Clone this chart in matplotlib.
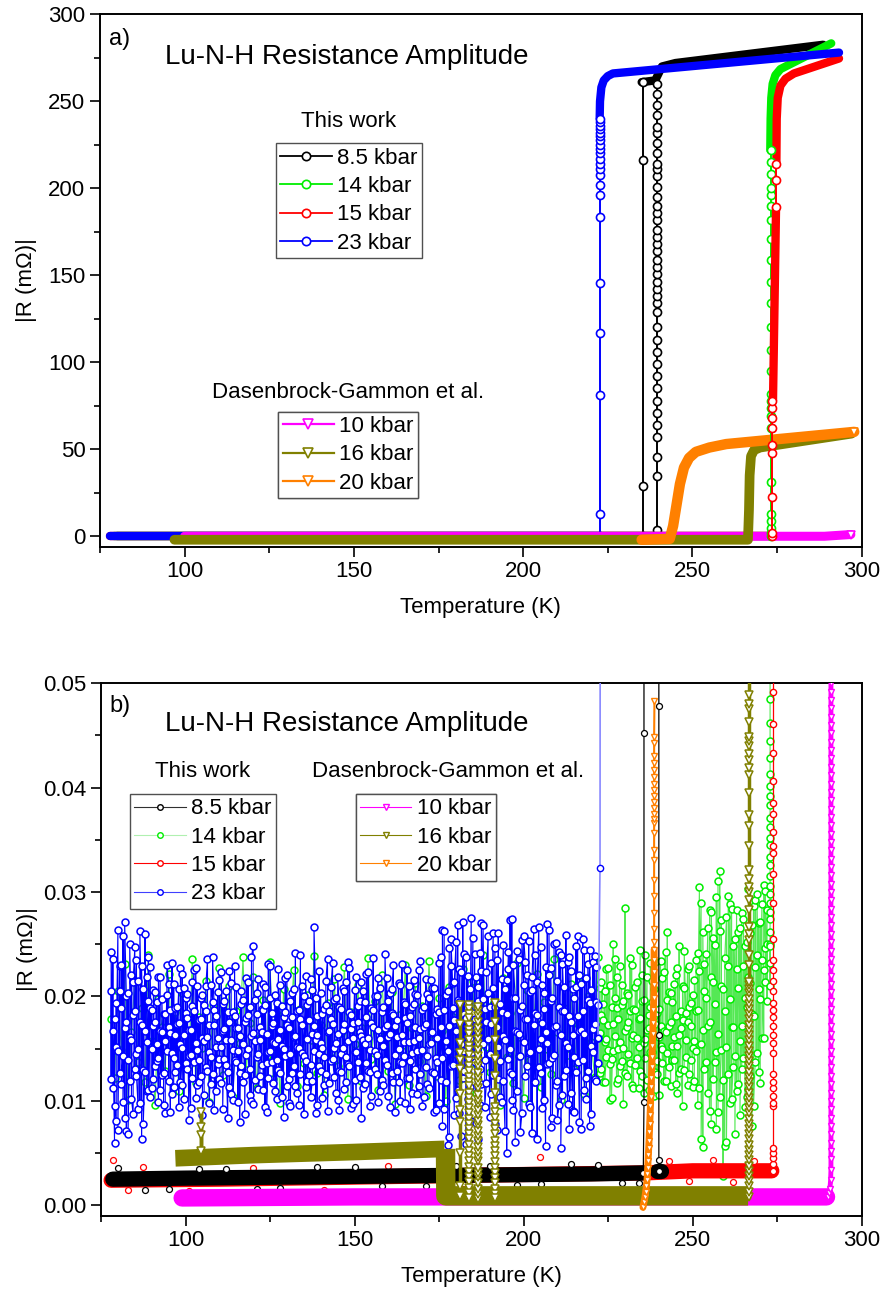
import matplotlib
matplotlib.use("Agg")
import matplotlib.pyplot as plt
from matplotlib.lines import Line2D
from matplotlib.ticker import MultipleLocator, FormatStrFormatter

plt.rcParams['font.family'] = ['Liberation Sans', 'DejaVu Sans']

BLK = '#000000'; GRN = '#00ee00'; RED = '#ff0000'; BLU = '#0000ff'
MAG = '#ff00ff'; OLV = '#808000'; ORN = '#ff8000'

# ---------------- panel a) values in mOhm ----------------
a_blk_flat_T = [80, 239.5]; a_blk_flat_R = [0, 0]
a_blk_top_T = [235.0, 239.0, 240.0, 241.0, 245.0, 288.6]
a_blk_top_R = [261, 262, 266, 270, 272, 282.5]
a_blk_jump1_T = 235.5
a_blk_jump1_R = [0, 29, 216, 261]
a_blk_jump2_T = 239.5
a_blk_jump2_R = [0, 3.6, 34.8, 45.4, 57, 64, 71, 78, 85, 92, 99, 106, 113, 120, 129, 134,
                 138, 142, 146, 151, 155, 159, 164, 168, 172, 176, 182, 186, 190, 195, 201,
                 207, 211, 214, 220, 226, 232, 235, 242, 248, 254, 260]

a_grn_flat_T = [79, 273.0]; a_grn_flat_R = [0, 0]
a_grn_jump_T = 273.1
a_grn_jump_R = [0, 2, 5, 9, 13, 31, 62, 69, 74, 78, 82, 95, 107, 120, 134, 146, 159, 171,
                182, 190, 196, 200, 208, 215, 222]
a_grn_top_T = [273.0, 273.1, 273.3, 273.7, 274.5, 276.0, 278.0, 291.0]
a_grn_top_R = [222, 240, 252, 260, 265, 268.5, 270.5, 283.3]

a_red_flat_T = [78, 273.6]; a_red_flat_R = [0, 0]
a_red_jump_T = 273.6
a_red_jump_R = [0, 2, 22.6, 48, 52.5, 62, 68, 74, 78]
a_red_mid_T = [273.8, 274.7]; a_red_mid_R = [78, 189]
a_red_gap_T = 274.8
a_red_gap_R = [189, 204.8, 214]
a_red_top_T = [274.8, 274.9, 275.2, 276.0, 277.5, 280.0, 293.3]
a_red_top_R = [214, 240, 252, 259, 263, 266, 274.6]

a_blu_flat_T = [78, 222.6]; a_blu_flat_R = [0, 0]
a_blu_jump_T = 222.7
a_blu_jump_R = [0, 12.8, 81, 116.7, 145.5, 183.3, 196, 202, 207.6, 211, 214, 217, 220,
                222.5, 225, 227.5, 230, 232, 234, 236, 238, 240]
a_blu_top_T = [222.6, 222.7, 223.1, 223.8, 225.0, 226.5, 293.3]
a_blu_top_R = [240, 250, 258, 262, 264.5, 266, 278]

a_mag_T = [100, 289, 296.8]; a_mag_R = [0, 0, 1]
a_olv_T = [97, 266.4, 266.7, 266.9, 267.3, 268.2, 270, 297]
a_olv_R = [-2, -2, 15, 35, 46, 49.5, 51, 59]
a_orn_T = [235, 243.3, 244.3, 245.3, 246.3, 247.5, 249, 251, 255, 260, 297.8]
a_orn_R = [-2, -1.5, 6, 18, 30, 39.5, 45, 48.5, 51, 53, 60]

# ---------------- panel b) values in 1e-4 mOhm ----------------
bins_lo = [78, 79, 80, 81, 82, 83, 84, 85, 86, 87, 88, 89, 90, 91, 92, 93, 94, 95, 96, 97,
           98, 99, 100, 101, 102, 103, 104, 105, 106, 107, 108, 109, 110, 111, 112, 113,
           114, 115, 116, 117, 118, 119, 120, 121, 122, 123, 124, 125, 126, 127, 128, 129,
           130, 131, 132, 133, 134, 135, 136, 137, 138, 139, 140, 141, 142, 143, 144, 145,
           146, 147, 148, 149, 150, 151, 152, 153, 154, 155, 156, 157, 158, 159, 160, 161,
           162, 163, 164, 165, 166, 167, 168, 169, 170, 171, 172, 173, 174, 175, 176, 177,
           178, 179, 180, 181, 182, 183, 184, 185, 186, 187, 188, 189, 190, 191, 192, 193,
           194, 195, 196, 197, 198, 199, 200, 201, 202, 203, 204, 205, 206, 207, 208, 209,
           210, 211, 212, 213, 214, 215, 216, 217, 218, 219, 220, 221, 222]
bins_lo_half = [78.5, 79.5, 80.5, 81.5, 82.5, 83.5, 84.5, 85.5, 86.5, 87.5, 88.5, 89.5,
                90.5, 91.5, 92.5, 93.5, 94.5, 95.5, 96.5, 97.5, 98.5, 99.5, 100.5, 101.5,
                102.5, 103.5, 104.5, 105.5, 106.5, 107.5, 108.5, 109.5, 110.5, 111.5, 112.5,
                113.5, 114.5, 115.5, 116.5, 117.5, 118.5, 119.5, 120.5, 121.5, 122.5, 123.5,
                124.5, 125.5, 126.5, 127.5, 128.5, 129.5, 130.5, 131.5, 132.5, 133.5, 134.5,
                135.5, 136.5, 137.5, 138.5, 139.5, 140.5, 141.5, 142.5, 143.5, 144.5, 145.5,
                146.5, 147.5, 148.5, 149.5, 150.5, 151.5, 152.5, 153.5, 154.5, 155.5, 156.5,
                157.5, 158.5, 159.5, 160.5, 161.5, 162.5, 163.5, 164.5, 165.5, 166.5, 167.5,
                168.5, 169.5, 170.5, 171.5, 172.5, 173.5, 174.5, 175.5, 176.5, 177.5, 178.5,
                179.5, 180.5, 181.5, 182.5, 183.5, 184.5, 185.5, 186.5, 187.5, 188.5, 189.5,
                190.5, 191.5, 192.5, 193.5, 194.5, 195.5, 196.5, 197.5, 198.5, 199.5, 200.5,
                201.5, 202.5, 203.5, 204.5, 205.5, 206.5, 207.5, 208.5, 209.5, 210.5, 211.5,
                212.5, 213.5, 214.5, 215.5, 216.5, 217.5, 218.5, 219.5, 220.5, 221.5]

b_blu_R = [
    (205, 121, 243), (60, 178, 95), (264, 148, 72), (189, 230, 116), (170, 84, 271),
    (139, 203, 68), (158, 221, 102), (247, 131, 186), (92, 215, 150), (173, 63, 229),
    (128, 260, 167), (196, 110, 238),
    (150, 187, 112), (204, 133, 176), (99, 219, 141), (166, 125, 198), (88, 183, 157),
    (212, 119, 171), (146, 232, 107), (189, 163, 128), (207, 94, 175), (151, 222, 115),
    (184, 136, 199), (82, 168, 143), (214, 122, 191), (155, 103, 227), (139, 177, 118),
    (201, 160, 86), (186, 132, 210), (147, 173, 98), (195, 126, 238), (152, 109, 181),
    (140, 216, 121), (167, 193, 92), (158, 205, 134), (176, 113, 224), (149, 185, 101),
    (170, 137, 209), (127, 162, 80), (197, 154, 118), (218, 144, 179), (106, 190, 131),
    (248, 165, 97), (183, 142, 203), (124, 171, 158), (212, 110, 187), (136, 164, 89),
    (199, 148, 229), (117, 175, 156), (102, 194, 139), (211, 127, 168), (85, 180, 150),
    (221, 114, 173), (145, 196, 95), (161, 207, 133), (186, 108, 152), (240, 126, 178),
    (143, 87, 200), (159, 119, 192), (134, 217, 104), (172, 148, 267), (96, 181, 163),
    (203, 129, 155), (115, 188, 142), (236, 166, 90), (178, 138, 209), (123, 197, 151),
    (164, 101, 219), (188, 145, 128), (111, 174, 205), (157, 233, 135), (93, 182, 169),
    (206, 120, 147), (137, 191, 176), (162, 84, 214), (195, 154, 116), (129, 223, 160),
    (175, 105, 189), (148, 200, 131), (218, 168, 99), (120, 185, 153), (170, 139, 241),
    (105, 196, 161), (184, 127, 207), (144, 172, 89), (213, 150, 118), (163, 231, 136),
    (98, 179, 193), (156, 122, 210), (190, 146, 108), (131, 202, 171), (225, 114, 160),
    (149, 187, 95), (174, 132, 217), (112, 199, 154), (208, 166, 128), (141, 91, 183),
    (232, 98, 185), (141, 264, 76), (201, 157, 118), (246, 172, 65), (213, 134, 189),
    (252, 103, 167), (226, 88, 195), (148, 271, 122), (179, 59, 238), (160, 207, 113),
    (256, 140, 184), (79, 219, 169), (131, 242, 96), (198, 154, 268), (117, 176, 223),
    (85, 190, 145), (261, 125, 208), (72, 171, 235), (138, 193, 104), (249, 162, 119),
    (216, 50, 183), (150, 273, 128), (199, 91, 230), (166, 109, 244), (143, 187, 70),
    (211, 156, 258), (133, 178, 221), (94, 204, 147), (265, 118, 173), (182, 63, 214),
    (127, 247, 159), (203, 101, 188), (155, 269, 135), (75, 196, 227), (171, 144, 250),
    (119, 215, 82), (240, 163, 55), (186, 124, 209), (97, 233, 152), (224, 176, 108),
    (142, 89, 199), (258, 137, 181), (168, 212, 73), (110, 245, 164), (197, 129, 231),
    (153, 87, 206), (239, 174, 121), (136, 192, 160)]
b_blu_R_half = [
    (112, 236, 167), (81, 194, 152), (229, 127, 205), (143, 258, 99),
    (200, 71, 176), (161, 119, 250), (87, 182, 214), (235, 145, 124),
    (176, 98, 263), (130, 207, 78), (219, 156, 109), (104, 189, 228),
    (172, 121, 206), (138, 195, 154), (219, 110, 167), (127, 183, 96),
    (201, 148, 230), (165, 89, 187), (113, 212, 141), (190, 134, 174),
    (154, 227, 118), (208, 102, 163), (131, 179, 202), (93, 168, 144),
    (225, 137, 186), (149, 210, 115), (178, 124, 199), (106, 192, 157),
    (236, 161, 129), (142, 116, 211), (187, 173, 91), (160, 204, 135),
    (117, 152, 223), (196, 140, 169), (84, 185, 128), (213, 158, 107),
    (139, 229, 181), (170, 99, 148), (205, 133, 193), (125, 176, 87),
    (182, 214, 150), (100, 162, 238), (157, 120, 197), (217, 145, 111),
    (134, 188, 166), (192, 94, 209), (147, 231, 122), (172, 137, 184),
    (109, 201, 155), (226, 159, 130), (153, 104, 191), (185, 218, 143),
    (121, 170, 98), (203, 127, 180), (162, 242, 114), (96, 187, 151),
    (210, 146, 173), (138, 113, 220), (177, 196, 125), (119, 164, 206),
    (199, 88, 158), (145, 224, 133), (183, 151, 103), (126, 192, 215),
    (167, 117, 186), (232, 174, 140), (108, 155, 199), (190, 129, 91),
    (151, 208, 168), (214, 142, 118), (133, 185, 227), (175, 97, 160),
    (101, 219, 147), (196, 166, 123), (158, 112, 205), (222, 180, 136),
    (128, 149, 95), (187, 237, 171), (144, 126, 200), (208, 159, 109),
    (115, 190, 153), (173, 134, 218), (94, 203, 164), (230, 118, 182),
    (161, 177, 129), (137, 100, 211), (195, 156, 143), (122, 225, 175),
    (181, 138, 92), (216, 193, 157), (148, 107, 201), (169, 234, 126),
    (104, 171, 190), (202, 143, 116), (155, 216, 165), (127, 89, 208),
    (188, 160, 137),
    (120, 238, 171), (263, 92, 187), (148, 205, 58), (229, 133, 255),
    (86, 177, 214), (197, 268, 110), (154, 66, 223), (241, 183, 129),
    (102, 220, 162), (275, 145, 81), (178, 241, 137), (63, 196, 209),
    (224, 116, 270), (139, 188, 94), (258, 159, 203), (107, 232, 174),
    (190, 78, 246), (152, 261, 121), (217, 99, 185), (71, 207, 158),
    (243, 140, 226), (126, 274, 101), (199, 167, 61), (164, 236, 143),
    (88, 191, 254), (233, 124, 178), (146, 253, 97), (206, 69, 219),
    (118, 184, 240), (267, 150, 132), (175, 93, 211), (57, 228, 166),
    (221, 136, 264), (141, 199, 84), (251, 172, 115), (96, 243, 190),
    (186, 106, 231), (130, 259, 155), (238, 181, 73), (163, 90, 207),
    (209, 248, 128), (80, 167, 221), (255, 139, 186), (122, 218, 102),
    (194, 76, 245), (147, 233, 169), (228, 119, 195)]
b_blu_jump_T = [222.6, 222.7]
b_blu_jump_R = [323, 800]

b_grn_lo_R = [178, 122, 205, 149, 231, 101, 166, 214, 137, 189, 118, 240, 157, 96, 198,
              171, 129, 222, 146, 185, 109, 203, 162, 134, 236, 117, 180, 151, 215, 99,
              192, 141, 227, 125, 168, 210, 104, 186, 155, 238, 130, 175, 219, 112, 160,
              197, 143, 233, 121, 183, 98, 207, 150, 169, 225, 114, 188, 136, 201, 158,
              239, 127, 173, 106, 194, 147, 217, 133, 165, 228, 102, 185, 154, 211, 119,
              176, 237, 140, 196, 110, 221, 163, 129, 204, 97, 182, 148, 230, 115, 170,
              213, 138, 191, 105, 234, 157, 124, 199, 167, 100, 209, 145, 186, 120, 226,
              160, 135, 215, 108, 179, 240, 152, 128, 193, 170, 96, 218, 142, 184, 117,
              232, 161, 103, 206, 139, 177, 222, 113, 195, 150, 126, 236, 166, 101, 189,
              144, 212, 131, 174, 220, 107, 200, 156, 123, 238]
bins_hi = [223, 224, 225, 226, 227, 228, 229, 230, 231, 232, 233, 234, 235, 236, 237, 238,
           239, 240, 241, 242, 243, 244, 245, 246, 247, 248, 249, 250, 251, 252, 253, 254,
           255, 256, 257, 258, 259, 260, 261, 262, 263, 264, 265, 266, 267, 268, 269, 270,
           271, 272]
bins_hi_half = [222.5, 223.5, 224.5, 225.5, 226.5, 227.5, 228.5, 229.5, 230.5, 231.5,
                232.5, 233.5, 234.5, 235.5, 236.5, 237.5, 238.5, 239.5, 240.5, 241.5,
                242.5, 243.5, 244.5, 245.5, 246.5, 247.5, 248.5, 249.5, 250.5, 251.5,
                252.5, 253.5, 254.5, 255.5, 256.5, 257.5, 258.5, 259.5, 260.5, 261.5,
                262.5, 263.5, 264.5, 265.5, 266.5, 267.5, 268.5, 269.5, 270.5, 271.5]
b_grn_hi_R = [
    (182, 131, 214), (156, 205, 118), (227, 149, 173), (140, 190, 103), (199, 162, 236),
    (121, 178, 150), (211, 138, 192), (167, 285, 127), (145, 201, 176), (230, 115, 160),
    (134, 187, 209), (178, 152, 112), (196, 124, 221), (159, 240, 141), (110, 182, 170),
    (215, 147, 195), (128, 174, 233), (188, 106, 161), (150, 218, 136), (243, 166, 119),
    (172, 132, 204), (139, 195, 153), (221, 116, 181), (163, 248, 127), (95, 177, 210),
    (184, 142, 158), (126, 229, 190), (201, 151, 113), (148, 186, 235),
    (305, 112, 224), (168, 56, 262), (241, 137, 199), (90, 283, 176), (214, 121, 256),
    (147, 295, 73), (263, 320, 104), (120, 28, 207), (276, 152, 61), (198, 98, 289),
    (132, 248, 171), (283, 109, 226), (157, 266, 86), (229, 141, 274), (104, 252, 190),
    (261, 124, 213), (181, 287, 95), (240, 146, 298), (117, 271, 198), (225, 160, 307),
    (283, 196, 250)]
b_grn_hi_R_half = [
    (165, 208, 127), (193, 118, 177), (142, 226, 159), (211, 135, 101),
    (174, 250, 148), (117, 189, 219), (229, 156, 133), (151, 97, 196),
    (203, 171, 124), (136, 237, 186), (188, 112, 163), (160, 214, 141),
    (245, 129, 179), (108, 197, 155), (219, 168, 120), (147, 232, 190),
    (181, 105, 207), (126, 184, 138), (234, 153, 172), (167, 119, 223),
    (197, 262, 146), (114, 176, 203), (212, 139, 161), (153, 227, 108),
    (186, 170, 131), (130, 208, 244), (226, 115, 176), (172, 194, 139),
    (119, 157, 216),
    (242, 96, 187), (290, 154, 63), (131, 231, 205), (266, 108, 172),
    (78, 219, 281), (193, 137, 249), (311, 164, 89), (149, 273, 210),
    (57, 186, 237), (229, 126, 296), (171, 284, 102), (255, 143, 68),
    (116, 208, 262), (280, 172, 131), (94, 248, 199), (219, 111, 303),
    (268, 183, 76), (137, 292, 228), (207, 128, 270), (289, 235, 160),
    (246, 301, 214)]
b_grn_col_T = 272.9
b_grn_col_R = [250, 210, 232, 248, 262, 274, 281, 290, 298, 306, 315, 326, 334, 345, 352,
               362, 371, 383, 392, 402, 413, 428, 445, 462, 485, 520]

b_red_band_T = [78, 110, 150, 190, 236, 250, 273.4]
b_red_band_R = [24, 25, 27, 29, 31, 33, 33]
b_red_out_T = [78.5, 83, 87.3, 101, 120, 141, 160, 182, 204.8, 243, 249, 256, 262, 268]
b_red_out_R = [43, 15, 37, 14, 36, 15, 38, 16, 46, 42, 23, 43, 22, 42]
b_red_col_T = 273.7
b_red_col_R = [33, 40, 45, 50, 55, 95, 98, 105, 112, 118, 126, 146, 155, 163, 172, 180,
               187, 194, 205, 215, 225, 235, 255, 290, 317, 337, 344, 358, 375, 385, 406,
               433, 461, 492, 520]

b_blk_band_T = [78.5, 100, 130, 160, 190, 220, 235.4]
b_blk_band_R = [25, 26, 27, 28, 29, 30, 31]
b_blk_out_T = [80, 88, 95, 104, 112, 121, 128, 139, 150, 158, 171, 180, 190, 198, 205, 214,
               222, 229, 234]
b_blk_out_R = [36, 15, 16, 35, 35, 16, 17, 37, 37, 18, 18, 38, 38, 19, 20, 40, 39, 21, 21]
b_blk_jump_T = [235.4, 235.6, 235.6, 235.6, 240.0, 240.0, 240.0, 240.0, 240.0]
b_blk_jump_R = [31, 99, 452, 800, 800, 478, 163, 43, 33]
b_blk_blob_T = [239.6, 240.6]
b_blk_blob_R = [33, 33]

b_mag_band_T = [99, 150, 200, 250, 289.6]
b_mag_band_R = [7, 8, 8, 8, 8]
b_mag_col_T = [289.9, 290.3, 290.6, 290.8, 290.9]
b_mag_col_R = [8, 12, 16, 24, 34]
b_mag_col2_T = 290.9
b_mag_col2_R = [44, 52, 60, 68, 76, 84, 92, 100, 108, 116, 124, 132, 140, 148, 156, 164,
                172, 180, 188, 196, 204, 212, 220, 228, 236, 244, 252, 260, 268, 276, 284,
                292, 300, 308, 316, 324, 332, 340, 348, 356, 364, 372, 380, 388, 396, 404,
                412, 420, 428, 436, 444, 452, 460, 468, 476, 484, 492, 500, 510, 520]

b_olv_band_T = [97, 120, 150, 176.6]
b_olv_band_R = [45, 48, 51, 54]
b_olv_low_T = [176.9, 177.0, 200, 230, 266.4]
b_olv_low_R = [54, 9, 9, 9, 9]
b_olv_spikes = {
    104.6: [50, 89, 75, 67, 52],
    181.2: [9, 18, 50, 80, 91, 107, 131, 139, 146, 155, 174, 192],
    183.7: [192, 188, 183, 179, 173, 168, 164, 158, 153, 149, 144, 138, 133, 129, 123, 118,
            114, 108, 103, 98, 93, 88, 83, 78, 73, 68, 63, 58, 52, 47, 42, 37, 32, 27, 22,
            17, 12, 7],
    186.4: [6, 11, 16, 21, 27, 31, 36, 42, 46, 51, 56, 62, 66, 71, 77, 81, 86, 91, 97,
            101, 106, 112, 117, 122, 127, 133, 138, 143, 149, 154, 159, 165, 170, 176, 181,
            186, 190],
    191.6: [194, 176, 158, 140, 124, 108, 94, 89, 84, 78, 73, 68, 62, 57, 52, 47, 41, 36,
            31, 26, 21, 16, 11, 7],
    266.7: [8, 13, 18, 23, 28, 33, 38, 43, 48, 53, 58, 63, 68, 73, 78, 83, 88, 93, 98, 103,
            108, 113, 118, 123, 128, 133, 138, 143, 148, 153, 158, 163, 168, 173, 178, 183,
            188, 193, 198, 203, 207, 211, 214, 230, 240, 254, 260, 267, 283, 292, 300, 305,
            313, 321, 344, 363, 374, 395, 412, 419, 427, 432, 440, 445, 449, 463, 475, 480,
            489, 520],
}

b_orn_T = [235.3, 235.6, 235.9, 236.1, 236.3, 236.5, 236.6, 236.7, 236.8, 236.9, 237.0,
           237.1, 237.2, 237.3, 237.4, 237.5, 237.6, 237.7, 237.8, 237.9, 238.0, 238.1,
           238.2, 238.3, 238.4, 238.5, 238.5, 238.6, 238.6, 238.6, 238.6, 238.6, 238.6,
           238.6, 238.6, 238.6, 238.6, 238.6, 238.6, 238.6, 238.6, 238.6, 238.6, 238.6,
           238.6, 238.6, 238.6, 238.6, 238.6, 238.6, 238.6, 238.6, 238.7]
b_orn_R = [-2, 3, 8, 13, 18, 24, 30, 36, 42, 48, 55, 62, 70, 78, 86, 95, 104, 113, 122,
           132, 142, 153, 164, 175, 187, 199, 211, 223, 235, 245, 252, 265, 280, 296, 312,
           331, 340, 357, 366, 370, 375, 381, 386, 392, 398, 404, 410, 417, 424, 430, 443,
           449, 483]

K = 1e-4


def unpack(T, R):
    pts = []
    for t, rs in zip(T, R):
        for r in rs:
            pts.append((t, r * K))
    return pts


def xy(pts):
    pts = sorted(pts, key=lambda p: p[0])
    return [p[0] for p in pts], [p[1] for p in pts]


fig = plt.figure(figsize=(8.83, 12.97), dpi=100)
W, H = 883.0, 1297.0
ax1 = fig.add_axes([100 / W, 1 - 546.7 / H, 761.7 / W, 532.4 / H])
ax2 = fig.add_axes([101 / W, 1 - 1215.7 / H, 760.7 / W, 532.4 / H])

# ---------------- panel a ----------------
BW = 6.0


def band(ax, T, R, c, lw, z, cap='round'):
    ax.plot(T, R, '-', color=c, lw=lw, solid_capstyle=cap, zorder=z)


def jump(ax, t, R, c, z, ms=5.8, lw=1.4):
    ax.plot([t] * len(R), R, '-o', color=c, lw=lw, ms=ms, mfc='white', mew=1.2, zorder=z)


band(ax1, a_blk_flat_T, a_blk_flat_R, BLK, BW, 2)
band(ax1, a_blk_top_T, a_blk_top_R, BLK, BW, 2)
jump(ax1, a_blk_jump1_T, a_blk_jump1_R, BLK, 2.1)
jump(ax1, a_blk_jump2_T, a_blk_jump2_R, BLK, 2.1)

band(ax1, a_grn_flat_T, a_grn_flat_R, GRN, BW, 3)
band(ax1, a_grn_top_T, a_grn_top_R, GRN, BW, 3)
jump(ax1, a_grn_jump_T, a_grn_jump_R, GRN, 9)

band(ax1, a_red_flat_T, a_red_flat_R, RED, BW, 3.5)
band(ax1, a_red_mid_T, a_red_mid_R, RED, BW, 9.5)
band(ax1, a_red_top_T, a_red_top_R, RED, BW, 4)
jump(ax1, a_red_jump_T, a_red_jump_R, RED, 9.5)
jump(ax1, a_red_gap_T, a_red_gap_R, RED, 9.5)

band(ax1, a_blu_flat_T, a_blu_flat_R, BLU, BW, 5)
band(ax1, a_blu_top_T, a_blu_top_R, BLU, BW, 5)
jump(ax1, a_blu_jump_T, a_blu_jump_R, BLU, 5)

band(ax1, a_mag_T, a_mag_R, MAG, 6.5, 6)
ax1.plot(a_mag_T[-1:], a_mag_R[-1:], 'v', color=MAG, ms=6, mfc='white', mew=1.2, zorder=6)
band(ax1, a_olv_T, a_olv_R, OLV, 7.0, 7)
band(ax1, a_orn_T, a_orn_R, ORN, 7.5, 8)
ax1.plot(a_orn_T[-1:], a_orn_R[-1:], 'v', color=ORN, ms=6, mfc='white', mew=1.2, zorder=8)

ax1.set_xlim(75, 300)
ax1.set_ylim(-6, 300)
ax1.yaxis.set_major_locator(MultipleLocator(50))
ax1.yaxis.set_minor_locator(MultipleLocator(25))

# ---------------- panel b ----------------
MS = 5.0
g_pts = (unpack(bins_lo, [(r,) for r in b_grn_lo_R]) + unpack(bins_hi, b_grn_hi_R)
         + unpack(bins_hi_half, b_grn_hi_R_half)
         + [(b_grn_col_T, r * K) for r in b_grn_col_R])
gx, gy = xy(g_pts)
ax2.plot(gx, gy, '-', color='#55e855', lw=0.8, marker='o', ms=MS, mec=GRN, mfc='white',
         mew=1.1, zorder=2)

ax2.plot(b_red_band_T, [r * K for r in b_red_band_R], '-', color=RED, lw=11,
         solid_capstyle='round', zorder=3)
ax2.plot(b_red_out_T, [r * K for r in b_red_out_R], 'o', color=RED, ms=4.3, mfc='white',
         mew=0.9, zorder=3)
ax2.plot([b_red_col_T] * len(b_red_col_R), [r * K for r in b_red_col_R], '-o', color=RED,
         lw=0.9, ms=4.5, mfc='white', mew=1.0, zorder=3)

bx, by = xy(unpack(bins_lo, b_blu_R) + unpack(bins_lo_half, b_blu_R_half))
ax2.plot(bx, by, '-', color=BLU, lw=0.8, marker='o', ms=MS, mec=BLU, mfc='white',
         mew=1.1, zorder=4)
ax2.plot([bx[-1]] + b_blu_jump_T, [by[-1]] + [r * K for r in b_blu_jump_R], '-o',
         color='#8888ff', lw=1.2, ms=4.5, mec=BLU, mfc='white', mew=1.0, zorder=4)

ax2.plot(b_blk_band_T, [r * K for r in b_blk_band_R], '-', color=BLK, lw=11,
         solid_capstyle='round', zorder=5)
ax2.plot(b_blk_blob_T, [r * K for r in b_blk_blob_R], '-', color=BLK, lw=11,
         solid_capstyle='round', zorder=5)
ax2.plot(b_blk_out_T, [r * K for r in b_blk_out_R], 'o', color=BLK, ms=4.3, mfc='white',
         mew=0.9, zorder=5)
ax2.plot(b_blk_jump_T, [r * K for r in b_blk_jump_R], '-o', color=BLK, lw=0.9, ms=4.3,
         mfc='white', mew=0.9, zorder=5)

ax2.plot(b_mag_band_T, [r * K for r in b_mag_band_R], '-', color=MAG, lw=12.5,
         solid_capstyle='round', zorder=6)
ax2.plot(b_mag_col_T + [b_mag_col2_T] * len(b_mag_col2_R),
         [r * K for r in b_mag_col_R + b_mag_col2_R], '-v', color=MAG, lw=3.5, ms=5,
         mfc='white', mew=1.0, zorder=6)

ax2.plot(b_olv_band_T, [r * K for r in b_olv_band_R], '-', color=OLV, lw=12,
         solid_capstyle='butt', zorder=7)
ax2.plot(b_olv_low_T, [r * K for r in b_olv_low_R], '-', color=OLV, lw=14,
         solid_capstyle='butt', zorder=7)
for t, rs in b_olv_spikes.items():
    ax2.plot([t] * len(rs), [r * K for r in rs], '-v', color=OLV, lw=2.5, ms=5.5,
             mfc='white', mew=1.1, zorder=7)

ax2.plot(b_orn_T[:30], [r * K for r in b_orn_R[:30]], '-', color=ORN, lw=5,
         solid_capstyle='round', zorder=8)
ax2.plot(b_orn_T, [r * K for r in b_orn_R], '-v', color=ORN, lw=1.5, ms=5, mfc='white',
         mew=1.0, zorder=8)

ax2.set_xlim(75, 300)
ax2.set_ylim(-0.001, 0.05)
ax2.yaxis.set_major_locator(MultipleLocator(0.01))
ax2.yaxis.set_minor_locator(MultipleLocator(0.005))
ax2.yaxis.set_major_formatter(FormatStrFormatter('%.2f'))

for ax in (ax1, ax2):
    ax.xaxis.set_major_locator(MultipleLocator(50))
    ax.xaxis.set_minor_locator(MultipleLocator(25))
    ax.tick_params(which='both', direction='out', top=False, right=False, width=1.2,
                   labelsize=16)
    ax.tick_params(which='major', length=7)
    ax.tick_params(which='minor', length=4)
    for s in ax.spines.values():
        s.set_linewidth(1.4)
    ax.set_xlabel('Temperature (K)', fontsize=16)
    ax.set_ylabel('|R (m\u03a9)|', fontsize=16)
    ax.xaxis.set_label_coords(0.5, -0.095)
    ax.yaxis.set_label_coords(-0.083, 0.5)


def ftext(x, y, s, size, ha='left'):
    fig.text(x / W, 1 - y / H, s, fontsize=size, ha=ha, va='baseline')


ftext(109, 45, 'a)', 17)
ftext(165, 64.3, 'Lu-N-H Resistance Amplitude', 20)
ftext(349, 126.7, 'This work', 16, 'center')
ftext(348, 398.3, 'Dasenbrock-Gammon et al.', 16, 'center')
ftext(109, 711.7, 'b)', 17)
ftext(165, 730.7, 'Lu-N-H Resistance Amplitude', 20)
ftext(203, 776.7, 'This work', 16, 'center')
ftext(448, 776.7, 'Dasenbrock-Gammon et al.', 16, 'center')

this_labels = ['8.5 kbar', '14 kbar', '15 kbar', '23 kbar']
dg_labels = ['10 kbar', '16 kbar', '20 kbar']


def legend(ax, handles, labels, x, y):
    lg = ax.legend(handles, labels, loc='upper left', bbox_to_anchor=(x / W, 1 - y / H),
                   bbox_transform=fig.transFigure, borderaxespad=0, fontsize=16,
                   handlelength=2.3, handletextpad=0.25, borderpad=0.2, labelspacing=0.33,
                   fancybox=False, framealpha=1)
    lg.get_frame().set_edgecolor('#505050')
    lg.get_frame().set_linewidth(1.0)
    lg.set_zorder(20)
    ax.add_artist(lg)


ha1 = [Line2D([], [], color=c, lw=1.3, marker='o', ms=6, mfc='white', mew=1.2)
       for c in (BLK, GRN, RED, BLU)]
ha2 = [Line2D([], [], color=c, lw=1.6, marker='v', ms=7, mfc='white', mew=1.2)
       for c in (MAG, OLV, ORN)]
legend(ax1, ha1, this_labels, 276, 143.3)
legend(ax1, ha2, dg_labels, 278.3, 411.7)

hb1 = [Line2D([], [], color=lc, lw=0.8, marker='o', ms=4, mec=c, mfc='white', mew=1.0)
       for lc, c in (('#303030', BLK), ('#b0f0b0', GRN), (RED, RED), ('#4040ff', BLU))]
hb2 = [Line2D([], [], color=c, lw=0.8, marker='v', ms=5, mfc='white', mew=1.0)
       for c in (MAG, OLV, ORN)]
legend(ax2, hb1, this_labels, 130, 794)
legend(ax2, hb2, dg_labels, 355.7, 794)

fig.savefig('out.png', dpi=100)
